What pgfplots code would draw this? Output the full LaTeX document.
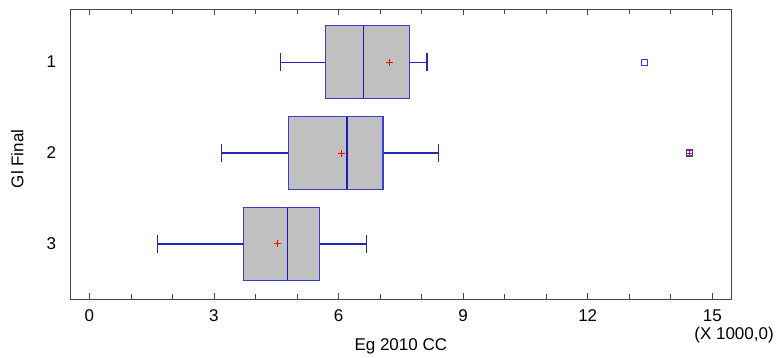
\documentclass[border=0pt]{standalone}
\usepackage{pgfplots}
\pgfplotsset{compat=1.18}
\usepackage{fontspec}
\setmainfont{Liberation Sans}
\definecolor{boxblue}{RGB}{60,60,210}
\definecolor{medblue}{RGB}{25,25,190}
\definecolor{whiskblue}{RGB}{40,40,175}
\definecolor{boxgray}{RGB}{192,192,192}
\definecolor{framegray}{RGB}{70,70,70}
\definecolor{outpurple}{RGB}{120,40,140}
\pgfplotsset{
  boxst/.style={fill=boxgray, draw=boxblue, line width=1.3pt},
  whst/.style={draw=whiskblue, line width=1.3pt},
  medst/.style={draw=medblue, line width=1.3pt},
}
\begin{document}
\begin{tikzpicture}[font=\fontsize{17}{20}\selectfont]
\begin{axis}[
  scale only axis,
  width=660.3pt, height=290pt,
  xmin=-0.45, xmax=15.45,
  ymin=0.415, ymax=3.607,
  y dir=reverse,
  axis line style={framegray, line width=0.9pt},
  xtick={0,3,6,9,12,15},
  minor xtick={1,2,4,5,7,8,10,11,13,14},
  ytick={1,2,3},
  yticklabels={1,2,3},
  tick align=inside,
  xtick pos=both,
  major tick length=6pt,
  minor tick length=5pt,
  every tick/.style={framegray, line width=0.8pt},
  ytick style={draw=none},
  /pgf/number format/assume math mode=true,
  xticklabel style={yshift=-7pt},
  yticklabel style={xshift=-11pt},
  xlabel={Eg 2010 CC},
  ylabel={Gl Final},
  every axis x label/.style={at={(axis description cs:0.5,-0.162)}, anchor=center},
  every axis y label/.style={at={(axis description cs:-0.081,0.483)}, rotate=90, anchor=center},
  clip=false,
]
% ---- group 1: lw 4.60, q1 5.68, med 6.60, q3 7.70, uw 8.13
\addplot[whst] coordinates {(4.60,1) (5.68,1)};
\addplot[whst] coordinates {(7.70,1) (8.13,1)};
\addplot[whst] coordinates {(4.60,0.9) (4.60,1.1)};
\addplot[whst] coordinates {(8.13,0.9) (8.13,1.1)};
\addplot[boxst] coordinates {(5.68,0.6) (7.70,0.6) (7.70,1.4) (5.68,1.4)} -- cycle;
\addplot[medst] coordinates {(6.60,0.6) (6.60,1.4)};
% ---- group 2: lw 3.18, q1 4.80, med 6.20, q3 7.07, uw 8.41
\addplot[whst] coordinates {(3.18,2) (4.80,2)};
\addplot[whst] coordinates {(7.07,2) (8.41,2)};
\addplot[whst] coordinates {(3.18,1.9) (3.18,2.1)};
\addplot[whst] coordinates {(8.41,1.9) (8.41,2.1)};
\addplot[boxst] coordinates {(4.80,1.6) (7.07,1.6) (7.07,2.4) (4.80,2.4)} -- cycle;
\addplot[medst] coordinates {(6.20,1.6) (6.20,2.4)};
% ---- group 3: lw 1.64, q1 3.71, med 4.77, q3 5.54, uw 6.68
\addplot[whst] coordinates {(1.64,3) (3.71,3)};
\addplot[whst] coordinates {(5.54,3) (6.68,3)};
\addplot[whst] coordinates {(1.64,2.9) (1.64,3.1)};
\addplot[whst] coordinates {(6.68,2.9) (6.68,3.1)};
\addplot[boxst] coordinates {(3.71,2.6) (5.54,2.6) (5.54,3.4) (3.71,3.4)} -- cycle;
\addplot[medst] coordinates {(4.77,2.6) (4.77,3.4)};
% means
\addplot[only marks, mark=+, mark size=3.5pt, draw=red, mark options={draw=red, line width=0.8pt}] coordinates {(7.23,1) (6.08,2) (4.52,3)};
% outliers
\addplot[only marks, mark=square, mark size=3pt, mark options={draw=boxblue, line width=1.1pt}] coordinates {(13.36,1)};
\addplot[only marks, mark=square, mark size=3pt, mark options={draw=outpurple, line width=1.1pt}] coordinates {(14.45,2)};
\addplot[only marks, mark=+, mark size=3pt, mark options={draw=outpurple, line width=0.8pt}] coordinates {(14.45,2)};
\node[anchor=east, inner sep=0pt] at (axis description cs:1.065,-0.126) {(X 1000,0)};
\end{axis}
\path (current axis.south west) ++(-70.7pt,-57pt) rectangle ++(777pt,356pt);
\end{tikzpicture}
\end{document}
